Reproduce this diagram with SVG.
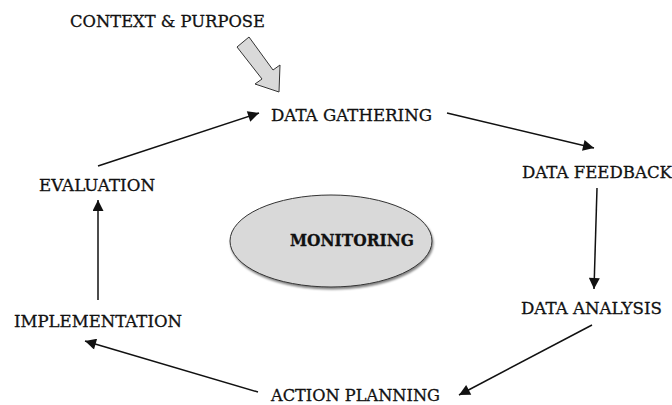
<svg xmlns="http://www.w3.org/2000/svg" width="672" height="405" viewBox="0 0 672 405">
<style>
.t{font-family:"DejaVu Serif","Liberation Serif",serif;font-size:16.5px;fill:#111;stroke:#111;stroke-width:0.3}
.c{stroke:#111;stroke-width:1.5;fill:none}
</style>
<defs>
<marker id="ah" viewBox="0 0 10 10" refX="10" refY="5" markerWidth="13" markerHeight="11" markerUnits="userSpaceOnUse" orient="auto"><path d="M0,0 L10,5 L0,10 z" fill="#111"/></marker>
<filter id="sh" x="-10%" y="-10%" width="130%" height="130%"><feDropShadow dx="1" dy="2" stdDeviation="1.2" flood-color="#000" flood-opacity="0.5"/></filter>
</defs>
<rect width="672" height="405" fill="#fff"/>
<g id="connectors">
<line class="c" x1="447" y1="113" x2="594" y2="148" marker-end="url(#ah)"/>
<line class="c" x1="597" y1="188" x2="594" y2="289" marker-end="url(#ah)"/>
<line class="c" x1="592" y1="325" x2="459" y2="395" marker-end="url(#ah)"/>
<line class="c" x1="258" y1="392" x2="85" y2="341" marker-end="url(#ah)"/>
<line class="c" x1="98" y1="300" x2="98" y2="200" marker-end="url(#ah)"/>
<line class="c" x1="98" y1="166" x2="259" y2="113" marker-end="url(#ah)"/>
</g>
<g id="context-arrow">
<path d="M237,47 L249,37 L273,70 L280,65 L279,92 L255,84 L262,79 Z" fill="#d9d9d9" stroke="#333" stroke-width="1"/>
</g>
<g id="monitoring">
<ellipse cx="331" cy="241" rx="101" ry="46" fill="#d9d9d9" stroke="#333" stroke-width="1" filter="url(#sh)"/>
<text class="t" x="352" y="246" text-anchor="middle" font-weight="bold" textLength="124" lengthAdjust="spacingAndGlyphs">MONITORING</text>
</g>
<g id="context"><text class="t" x="70" y="27" textLength="195" lengthAdjust="spacingAndGlyphs">CONTEXT &amp; PURPOSE</text></g>
<g id="data-gathering"><text class="t" x="271" y="121" textLength="161" lengthAdjust="spacingAndGlyphs">DATA GATHERING</text></g>
<g id="data-feedback"><text class="t" x="522" y="178" textLength="150" lengthAdjust="spacingAndGlyphs">DATA FEEDBACK</text></g>
<g id="data-analysis"><text class="t" x="521" y="314" textLength="141" lengthAdjust="spacingAndGlyphs">DATA ANALYSIS</text></g>
<g id="action-planning"><text class="t" x="271" y="401" textLength="169" lengthAdjust="spacingAndGlyphs">ACTION PLANNING</text></g>
<g id="implementation"><text class="t" x="14" y="327" textLength="168" lengthAdjust="spacingAndGlyphs">IMPLEMENTATION</text></g>
<g id="evaluation"><text class="t" x="39" y="191" textLength="116" lengthAdjust="spacingAndGlyphs">EVALUATION</text></g>
</svg>
